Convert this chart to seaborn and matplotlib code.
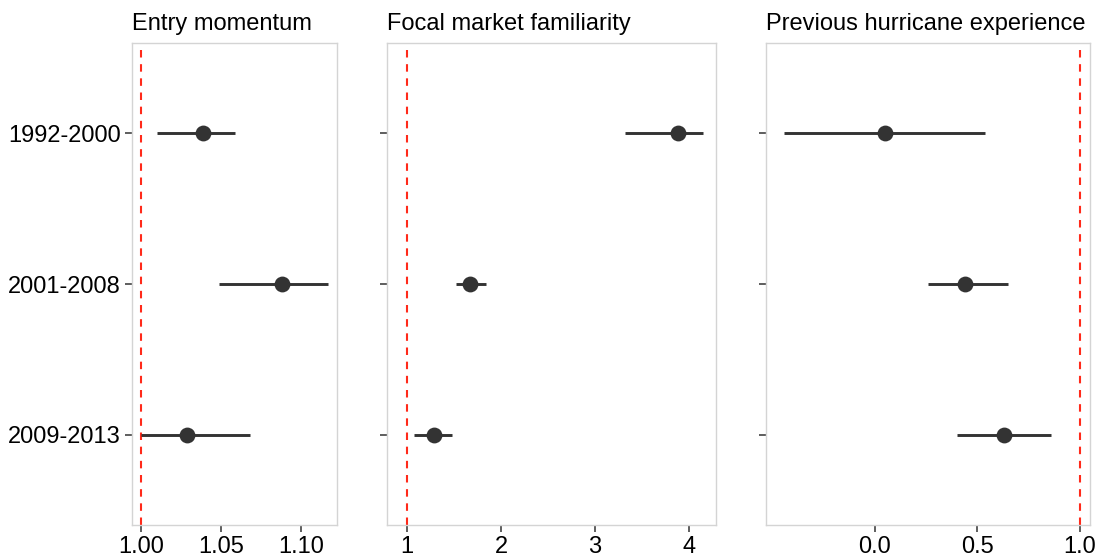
import matplotlib
matplotlib.use("Agg")
import matplotlib.pyplot as plt
import seaborn as sns
import pandas as pd

periods = ["1992-2000", "2001-2008", "2009-2013"]
panels = ["Entry momentum", "Focal market familiarity", "Previous hurricane experience"]

entry_est = [1.039, 1.088, 1.029]
entry_lo = [1.010, 1.049, 1.000]
entry_hi = [1.059, 1.117, 1.068]

focal_est = [3.88, 1.67, 1.29]
focal_lo = [3.32, 1.52, 1.07]
focal_hi = [4.15, 1.84, 1.48]

hurr_est = [0.05, 0.44, 0.63]
hurr_lo = [-0.44, 0.26, 0.40]
hurr_hi = [0.54, 0.65, 0.86]

estimates = [entry_est, focal_est, hurr_est]
lows = [entry_lo, focal_lo, hurr_lo]
highs = [entry_hi, focal_hi, hurr_hi]

xlims = [(0.9944, 1.1225), (0.787, 4.287), (-0.53, 1.05)]
xticks = [[1.00, 1.05, 1.10], [1, 2, 3, 4], [0.0, 0.5, 1.0]]
xticklabels = [["1.00", "1.05", "1.10"], ["1", "2", "3", "4"], ["0.0", "0.5", "1.0"]]

sns.set_style("white")
plt.rcParams["font.family"] = ["Liberation Sans", "DejaVu Sans"]

fig = plt.figure(figsize=(10.97, 5.58), dpi=100)
lefts = [0.1203, 0.3528, 0.6983]
widths = [0.1869, 0.2999, 0.2953]

for i in range(3):
    ax = fig.add_axes([lefts[i], 0.0591, widths[i], 0.8638])
    df = pd.DataFrame({"period": periods, "est": estimates[i],
                       "lo": lows[i], "hi": highs[i]})
    df["y"] = range(len(periods))
    ax.axvline(1, color="#ff2a1a", linestyle=(0, (3.6, 3.2)), linewidth=1.5, zorder=1)
    ax.hlines(df["y"], df["lo"], df["hi"], color="#333333", linewidth=2.1, zorder=2)
    sns.scatterplot(data=df, x="est", y="y", ax=ax, color="#333333", s=130,
                    edgecolor="#333333", linewidth=0, zorder=3)
    ax.set_xlim(*xlims[i])
    ax.set_ylim(2.6, -0.6)
    ax.set_xticks(xticks[i])
    ax.set_xticklabels(xticklabels[i])
    ax.set_yticks(range(len(periods)))
    if i == 0:
        ax.set_yticklabels(periods)
    else:
        ax.set_yticklabels([])
    ax.set_xlabel("")
    ax.set_ylabel("")
    ax.set_title(panels[i], loc="left", fontsize=17, pad=9.5, color="black")
    ax.tick_params(axis="both", labelsize=17, colors="#333333", labelcolor="black",
                   length=5, width=1.1, pad=3, left=True, bottom=True)
    for s in ax.spines.values():
        s.set_color("#d4d4d4")
        s.set_linewidth(1.0)
    ax.grid(False)

fig.savefig("out.png", dpi=100, facecolor="white")
